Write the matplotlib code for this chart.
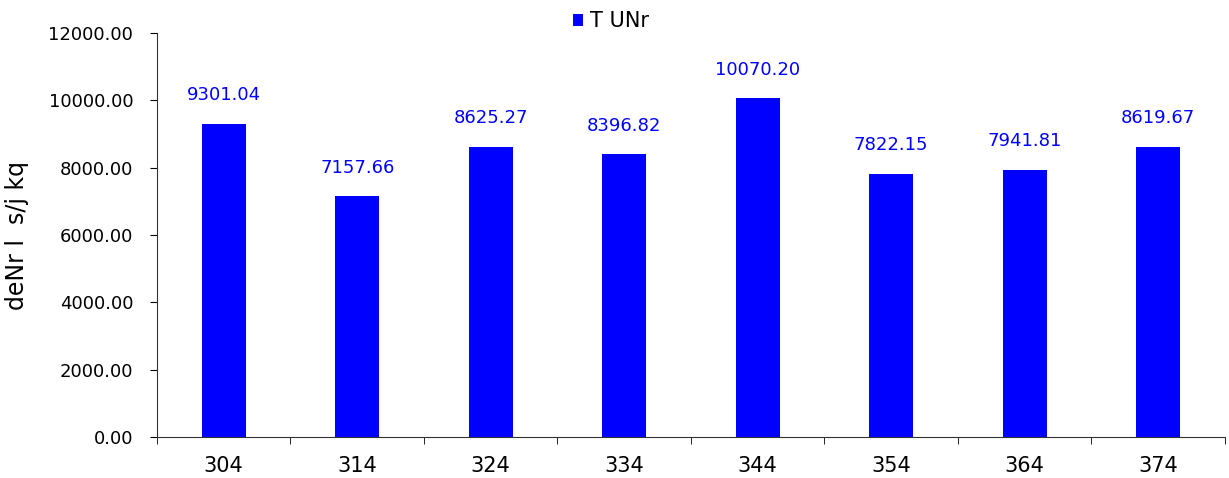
import matplotlib.pyplot as plt
import numpy as np

# Chart data
categories = ["304", "314", "324", "334", "344", "354", "364", "374"]
values = [9301.04, 7157.66, 8625.27, 8396.82, 10070.20, 7822.15, 7941.81, 8619.67]
series_name = "T UNr"
y_label = "deNr l  s/j kq"

plt.rcParams["font.family"] = ["DejaVu Sans"]

fig = plt.figure(figsize=(12.29, 4.78), dpi=100)
ax = fig.add_axes([0.1277, 0.0858, 0.869, 0.845])

x = np.arange(len(categories))
bars = ax.bar(x, values, width=0.33, color="#0000FF", label=series_name)

# Value labels above each bar
for xi, v in zip(x, values):
    ax.annotate(f"{v:.2f}", (xi, v), xytext=(0, 14), textcoords="offset points",
                ha="center", va="bottom", color="#0000FF", fontsize=13)

ax.set_xlim(-0.5, len(categories) - 0.5)
ax.set_ylim(0, 12000)
ax.set_yticks(np.arange(0, 12001, 2000))
ax.yaxis.set_major_formatter(plt.FuncFormatter(lambda v, p: f"{v:.2f}"))
ax.set_xticks(x)
ax.set_xticklabels(categories)
ax.set_xticks(np.arange(-0.5, len(categories), 1), minor=True)
ax.tick_params(axis="x", which="major", length=0, pad=14, labelsize=15)
ax.tick_params(axis="x", which="minor", length=5, direction="out")
ax.tick_params(axis="y", length=5, direction="out", labelsize=13, pad=12)

ax.spines["top"].set_visible(False)
ax.spines["right"].set_visible(False)
ax.spines["left"].set_color("#333333")
ax.spines["bottom"].set_color("#333333")

ax.set_ylabel(y_label, fontsize=17, labelpad=14)

ax.legend(loc="upper center", bbox_to_anchor=(0.425, 1.10), frameon=False,
          fontsize=15, handlelength=0.5, handleheight=0.5, handletextpad=0.3)

fig.savefig("out.png", dpi=100)
